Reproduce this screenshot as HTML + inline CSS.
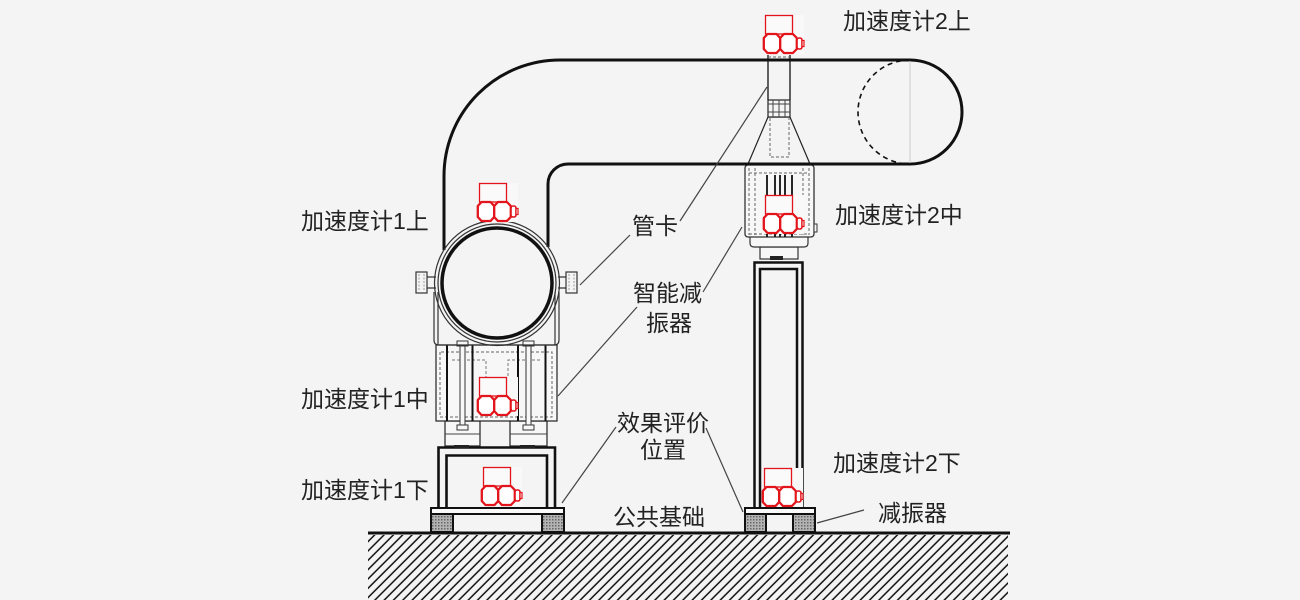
<!DOCTYPE html>
<html><head><meta charset="utf-8"><style>
html,body{margin:0;padding:0;background:#f4f4f4;}
svg{display:block}
text{font-family:"Liberation Sans","Noto Sans CJK SC",sans-serif;font-size:23px;fill:#222;}
</style></head><body>
<svg width="1300" height="600" viewBox="0 0 1300 600" xmlns="http://www.w3.org/2000/svg">
<defs>
<pattern id="hatch" width="6.6" height="10" patternUnits="userSpaceOnUse" patternTransform="rotate(45)"><line x1="3" y1="0" x2="3" y2="10" stroke="#111" stroke-width="1.5"/></pattern>
<pattern id="dots" width="3" height="3" patternUnits="userSpaceOnUse"><rect width="3" height="3" fill="#b4b4b4"/><rect width="1.5" height="1.5" fill="#666"/></pattern>
<g id="acc">
<rect x="1" y="0" width="40" height="39" fill="#f8f8f8"/>
<rect x="2.5" y="0.5" width="27" height="18.5" fill="#fafafa" stroke="#e3141b" stroke-width="1.3"/>
<path d="M4.5 19 H13.5 L17.2 23 V34 L13.5 38 H4.5 L0.8 34 V23 Z" fill="#fff" stroke="#e3141b" stroke-width="2.3" stroke-linejoin="round"/>
<path d="M20.9 19 H29.9 L33.8 23 V34 L29.9 38 H20.9 L17.2 34 V23 Z" fill="#fff" stroke="#e3141b" stroke-width="2.3" stroke-linejoin="round"/>
<rect x="34" y="23" width="5" height="11" rx="2" fill="#fff" stroke="#e3141b" stroke-width="1.6"/>
<rect x="39" y="25.5" width="2" height="6" fill="#fff" stroke="#e3141b" stroke-width="1.2"/>
</g>
</defs>
<rect width="1300" height="600" fill="#f4f4f4"/>

<!-- ground -->
<rect x="368" y="535" width="640" height="65" fill="url(#hatch)"/>
<line x1="368" y1="533" x2="1010" y2="533" stroke="#111" stroke-width="3"/>

<!-- pipe -->
<path d="M444 250 L444 176 A116 116 0 0 1 560 60 L910 60 A52 52 0 0 1 910 164 L568 164 A20 20 0 0 0 548 184 L548 247" fill="none" stroke="#111" stroke-width="3"/>
<path d="M910 60 A52 52 0 0 0 910 164" fill="none" stroke="#111" stroke-width="1.6" stroke-dasharray="5 4"/>
<line x1="910" y1="61" x2="910" y2="163" stroke="#ccc" stroke-width="1"/>

<!-- LEFT SUPPORT -->
<rect x="431" y="514" width="22" height="18" fill="url(#dots)" stroke="#111" stroke-width="2"/>
<rect x="542" y="514" width="22" height="18" fill="url(#dots)" stroke="#111" stroke-width="2"/>
<rect x="431" y="508" width="133" height="6" fill="#fafafa" stroke="#111" stroke-width="2"/>
<path d="M438.5 508 V447.5 H555 V508 M446.5 508 V455.5 H547 V508" fill="none" stroke="#111" stroke-width="2.6"/>
<rect x="445" y="421" width="35" height="25" fill="#f7f7f7" stroke="#222" stroke-width="1.2"/>
<rect x="510" y="421" width="37" height="25" fill="#f7f7f7" stroke="#222" stroke-width="1.2"/>
<line x1="445" y1="434" x2="480" y2="434" stroke="#444" stroke-width="1"/>
<line x1="510" y1="434" x2="547" y2="434" stroke="#444" stroke-width="1"/>
<rect x="454" y="445" width="15" height="3" fill="#222"/>
<rect x="520" y="445" width="15" height="3" fill="#222"/>
<rect x="436" y="345" width="121" height="76" fill="#f7f7f7" stroke="#222" stroke-width="1.2"/>
<path d="M440 352 V417 H552 V352 Z" fill="none" stroke="#666" stroke-width="1" stroke-dasharray="3 2"/>
<path d="M452 360 H486 V386 M508 386 V360 H541" fill="none" stroke="#777" stroke-width="1" stroke-dasharray="3 2"/>
<g stroke="#111" stroke-width="2">
<line x1="447" y1="345" x2="447" y2="421"/>
<line x1="472.5" y1="345" x2="472.5" y2="421"/>
<line x1="518" y1="345" x2="518" y2="421"/>
<line x1="545.5" y1="345" x2="545.5" y2="421"/>
</g>
<g fill="#f7f7f7" stroke="#333" stroke-width="1">
<rect x="460" y="344" width="5" height="86"/>
<rect x="526" y="344" width="5" height="86"/>
<rect x="457" y="341" width="11" height="5"/>
<rect x="523" y="341" width="11" height="5"/>
<rect x="457" y="425" width="11" height="5"/>
<rect x="523" y="425" width="11" height="5"/>
</g>
<g fill="none" stroke="#333" stroke-width="1.2">
<path d="M434 292 V340 Q434 345 439 345 H554 Q559 345 559 340 V292"/>
<path d="M438 292 V345 M555 292 V345"/>
<circle cx="497" cy="283" r="59"/>
<circle cx="497" cy="283" r="62.5"/>
<rect x="416" y="272" width="11" height="21" fill="#f4f4f4"/>
<rect x="566" y="272" width="11" height="21" fill="#f4f4f4"/>
<path d="M427 277 H436 M427 288 H436 M558 277 H566 M558 288 H566"/>
<path d="M419 274 V291 M424 274 V291 M569 274 V291 M574 274 V291" stroke="#888" stroke-dasharray="2 1.5" stroke-width="0.8"/>
</g>
<circle cx="497" cy="283" r="55" fill="#f4f4f4" stroke="#111" stroke-width="3.5"/>

<!-- RIGHT SUPPORT -->
<rect x="745" y="514" width="21" height="18" fill="url(#dots)" stroke="#111" stroke-width="2"/>
<rect x="793" y="514" width="22" height="18" fill="url(#dots)" stroke="#111" stroke-width="2"/>
<rect x="745" y="508" width="70" height="6" fill="#fafafa" stroke="#111" stroke-width="2"/>
<path d="M754.5 508 V262.5 H802.5 V508 M760 508 V269 H797 V508" fill="none" stroke="#111" stroke-width="2.5"/>
<rect x="760" y="247" width="38" height="12" fill="#f7f7f7" stroke="#333" stroke-width="1.2"/>
<rect x="770" y="256" width="13" height="4" fill="#222"/>
<path d="M750 237 V243 Q750 247 754 247 H804 Q808 247 808 243 V237" fill="#f7f7f7" stroke="#333" stroke-width="1.2"/>
<rect x="745" y="165" width="69" height="72" rx="3" fill="#f7f7f7" stroke="#333" stroke-width="1.3"/>
<path d="M749 168 V235 M755 168 V235 M803 168 V235 M809 168 V235 M749 173 H809 M749 234 H809" fill="none" stroke="#666" stroke-width="1" stroke-dasharray="3 2"/>
<g stroke="#111" stroke-width="1.8">
<line x1="767" y1="175" x2="767" y2="237"/>
<line x1="775" y1="175" x2="775" y2="237"/>
<line x1="780" y1="175" x2="780" y2="237"/>
<line x1="785" y1="175" x2="785" y2="237"/>
<line x1="792" y1="175" x2="792" y2="237"/>
</g>
<rect x="814" y="224" width="3" height="8" fill="#f7f7f7" stroke="#333" stroke-width="1"/>
<path d="M768 117 L748 164 M790 117 L810 164 M768 117 H790" fill="none" stroke="#222" stroke-width="1.2"/>
<path d="M770 118 V157 H789 V118" fill="none" stroke="#666" stroke-width="1" stroke-dasharray="3 2"/>
<rect x="768" y="100" width="22" height="17" fill="#f4f4f4" stroke="#222" stroke-width="1.2"/>
<path d="M768 104 H790 M768 112 H790 M773 100 V117 M779 100 V117 M785 100 V117" stroke="#444" stroke-width="1" fill="none"/>
<path d="M768 55 V100 M790 55 V100" stroke="#222" stroke-width="1.4" fill="none"/>
<path d="M768 57 H790" stroke="#666" stroke-width="1" stroke-dasharray="3 2"/>
<path d="M740 60 H820 M740 164 H820" stroke="#111" stroke-width="3"/>

<!-- leader lines -->
<g stroke="#444" stroke-width="1.2" fill="none">
<line x1="767" y1="87" x2="680" y2="221"/>
<line x1="630" y1="235" x2="580" y2="285"/>
<line x1="703" y1="292" x2="742" y2="227"/>
<line x1="637" y1="307" x2="558" y2="396"/>
<line x1="616" y1="427" x2="562" y2="503"/>
<line x1="706" y1="428" x2="743" y2="512"/>
<line x1="864" y1="510" x2="817" y2="523"/>
</g>

<!-- accelerometers -->
<use href="#acc" transform="translate(477,183)"/>
<use href="#acc" transform="translate(477,377)"/>
<use href="#acc" transform="translate(481,467)"/>
<use href="#acc" transform="translate(763,15)"/>
<use href="#acc" transform="translate(763,195)"/>
<use href="#acc" transform="translate(762,468)"/>

<!-- labels -->
<text x="843" y="29">加速度计2上</text>
<text x="301" y="229">加速度计1上</text>
<text x="632" y="234">管卡</text>
<text x="835" y="223">加速度计2中</text>
<text x="633" y="301">智能减</text>
<text x="646" y="331">振器</text>
<text x="301" y="407">加速度计1中</text>
<text x="617" y="431">效果评价</text>
<text x="640" y="458">位置</text>
<text x="833" y="471">加速度计2下</text>
<text x="301" y="498">加速度计1下</text>
<text x="613" y="525">公共基础</text>
<text x="878" y="521">减振器</text>
</svg>
</body></html>
